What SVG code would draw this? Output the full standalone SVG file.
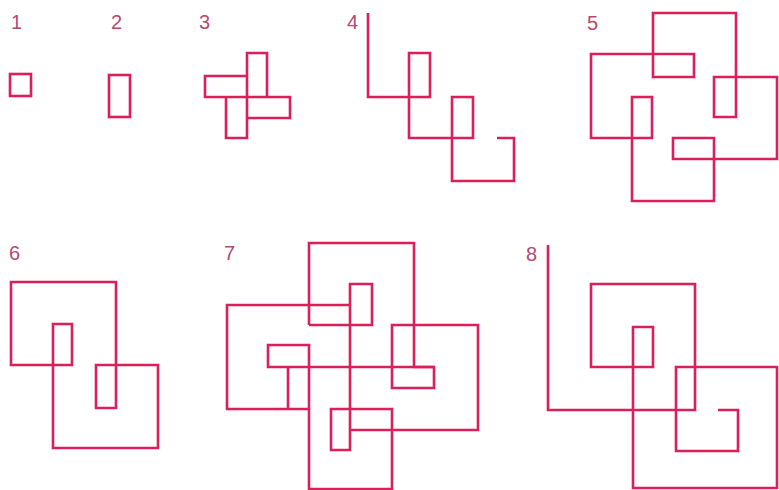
<svg xmlns="http://www.w3.org/2000/svg" width="779" height="490" viewBox="0 0 779 490">
<style>
.ln{fill:none;stroke:#DA1F5B;stroke-width:2.6;stroke-linejoin:miter;stroke-linecap:butt}
.lb{font-family:"Liberation Sans",Arial,sans-serif;font-size:20px;fill:#B4496F}
</style>
<rect width="779" height="490" fill="#ffffff"/>
<g id="labels">
<text class="lb" x="11" y="29">1</text>
<text class="lb" x="111" y="29">2</text>
<text class="lb" x="199" y="29">3</text>
<text class="lb" x="347" y="29">4</text>
<text class="lb" x="587" y="30">5</text>
<text class="lb" x="9" y="260">6</text>
<text class="lb" x="224" y="260">7</text>
<text class="lb" x="526" y="261">8</text>
</g>
<g id="fig1"><rect class="ln" x="10" y="74" width="21" height="22"/></g>
<g id="fig2"><rect class="ln" x="109" y="75" width="21" height="42"/></g>
<g id="fig3">
<path class="ln" d="M205,76 H247 V97 H205 Z M247,53 H267 V97 H247 Z M247,97 H290 V118 H247 Z M226,97 H247 V138 H226 Z"/>
</g>
<g id="fig4">
<path class="ln" d="M368,13 V97 H430 V53 H409 V138 H473 V97 H452 V181 H514 V138 H497"/>
</g>
<g id="fig5">
<path class="ln" d="M653,13 H736 V117 H714 V77 H777 V159 H673 V138 H714 V201 H632 V97 H652 V138 H591 V54 H694 V77 H653 Z"/>
</g>
<g id="fig6">
<path class="ln" d="M11,282 H116 V408 H96 V365 H158 V448 H53 V324 H72 V365 H11 Z"/>
</g>
<g id="fig7">
<path class="ln" d="M309,325 V243 H414 V367 H434 V388 H392 V325 H478 V430 H350"/>
<path class="ln" d="M309,325 H372 V284 H350 V450 H331 V409 H392 V489 H309 V345 H268 V367 H434"/>
<path class="ln" d="M350,305 H227 V409 H309 M288,367 V409"/>
</g>
<g id="fig8">
<path class="ln" d="M548,245 V410 H695 V284 H591 V367 H653 V327 H633 V488 H777 V367 H676 V451 H738 V410 H718"/>
</g>
</svg>
